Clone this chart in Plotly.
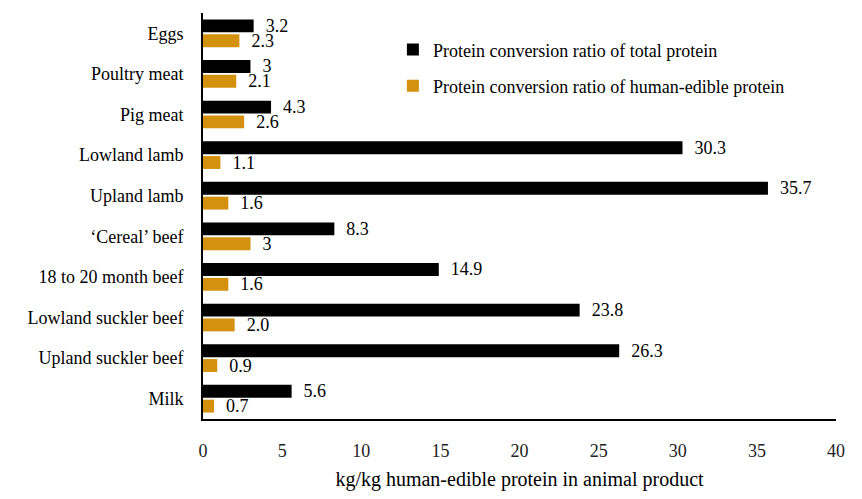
import plotly.graph_objects as go

products = ["Eggs", "Poultry meat", "Pig meat", "Lowland lamb", "Upland lamb",
            "\u2018Cereal\u2019 beef", "18 to 20 month beef", "Lowland suckler beef",
            "Upland suckler beef", "Milk"]
total_protein = [3.2, 3.0, 4.3, 30.3, 35.7, 8.3, 14.9, 23.8, 26.3, 5.6]
edible_protein = [2.3, 2.1, 2.6, 1.1, 1.6, 3.0, 1.6, 2.0, 0.9, 0.7]
total_labels = ["3.2", "3", "4.3", "30.3", "35.7", "8.3", "14.9", "23.8", "26.3", "5.6"]
edible_labels = ["2.3", "2.1", "2.6", "1.1", "1.6", "3", "1.6", "2.0", "0.9", "0.7"]
x_ticks = [0, 5, 10, 15, 20, 25, 30, 35, 40]

FONT = "Times New Roman"
BLACK = "#000000"
GOLD = "#D4910D"
pad = "\u00a0\u00a0"

fig = go.Figure()
fig.add_trace(go.Bar(
    y=products, x=total_protein, orientation="h",
    name="Protein conversion ratio of total protein",
    marker=dict(color=BLACK, line=dict(width=0)),
    text=[pad + t for t in total_labels], textposition="outside",
    textfont=dict(family=FONT, size=18, color="#000"),
    cliponaxis=False, constraintext="none", legendgroup="a",
))
fig.add_trace(go.Bar(
    y=products, x=edible_protein, orientation="h",
    name="Protein conversion ratio of human-edible protein",
    marker=dict(color=GOLD, line=dict(width=0)),
    text=[pad + t for t in edible_labels], textposition="outside",
    textfont=dict(family=FONT, size=18, color="#000"),
    cliponaxis=False, constraintext="none", legendgroup="b",
))

fig.update_layout(
    width=862, height=499,
    margin=dict(l=203, r=26, t=13, b=75),
    paper_bgcolor="white", plot_bgcolor="white",
    font=dict(family=FONT, size=18, color="#000"),
    barmode="group", bargap=0.27, bargroupgap=0.13,
    showlegend=True,
    legend=dict(
        x=0.30, y=0.955, xanchor="left", yanchor="top",
        bgcolor="rgba(0,0,0,0)", font=dict(family=FONT, size=18, color="#000"),
        traceorder="grouped", tracegroupgap=10, itemwidth=30,
    ),
)
fig.update_xaxes(
    range=[0, 40], tickvals=x_ticks, ticktext=[str(v) for v in x_ticks],
    showgrid=False, zeroline=False,
    showline=True, linecolor="#000", linewidth=2,
    ticks="", ticklabelstandoff=14,
    tickfont=dict(family=FONT, size=18, color="#222"),
    title=dict(text="kg/kg human-edible protein in animal product",
               font=dict(family=FONT, size=20, color="#000"), standoff=12),
)
fig.update_yaxes(
    autorange="reversed", showgrid=False, zeroline=False,
    showline=True, linecolor="#000", linewidth=2,
    ticks="", ticklabelstandoff=14,
    tickfont=dict(family=FONT, size=18, color="#000"),
)

fig.write_html("out.html")
